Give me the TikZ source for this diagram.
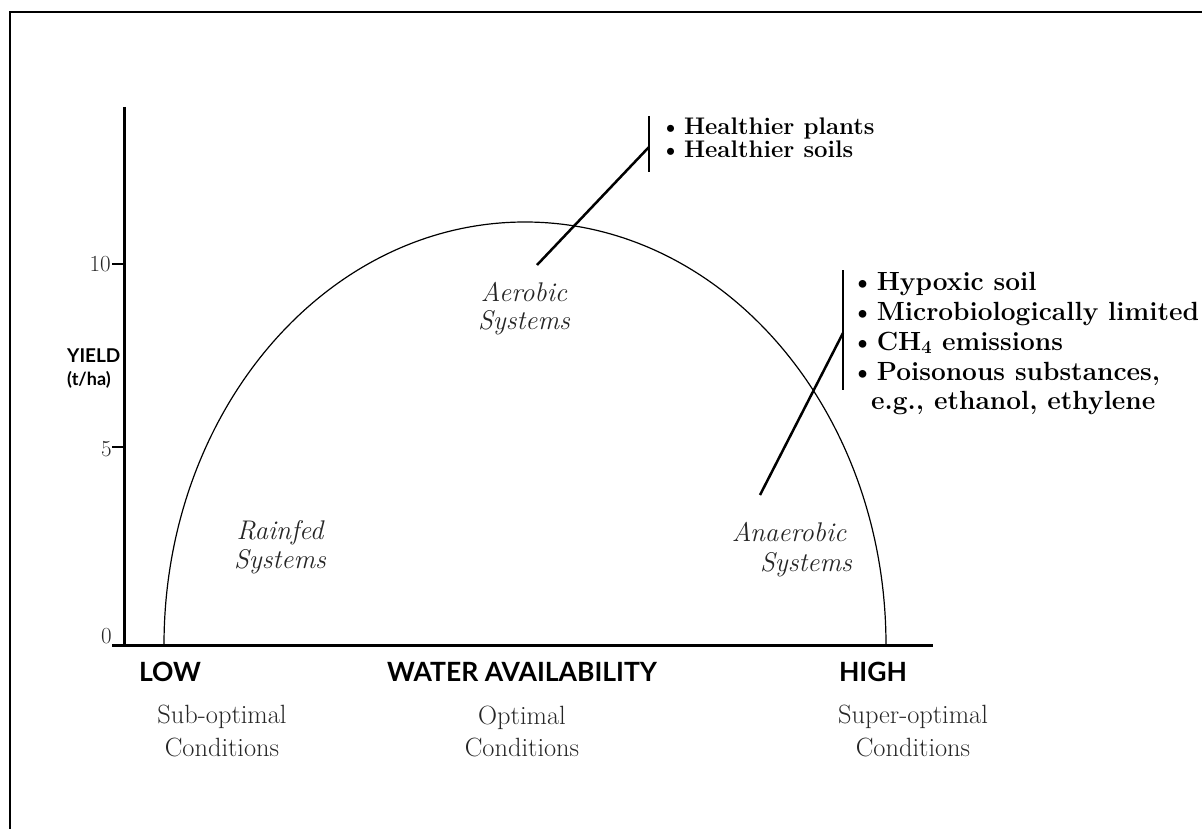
\documentclass[tikz,border=0pt]{standalone}
\usepackage{fontspec}
\newfontfamily\latofont{Lato}
\definecolor{textgray}{gray}{0.15}
\begin{document}
\begin{tikzpicture}[x=1pt,y=-1pt,
  frameline/.style={line width=2pt},
  axisline/.style={line width=3pt},
  tickline/.style={line width=2.5pt},
  curve/.style={line width=1.2pt},
  connector/.style={line width=2.5pt},
  barline/.style={line width=2.5pt},
  numlabel/.style={inner sep=0pt, text=textgray, font=\fontsize{23}{26}\selectfont},
  sanslabel/.style={inner sep=0pt, anchor=base, font=\latofont\bfseries\fontsize{26.5}{30}\selectfont},
  condlabel/.style={inner sep=0pt, anchor=base, text=textgray, font=\fontsize{26.4}{32}\selectfont},
  syslabel/.style={inner sep=0pt, anchor=base, text=textgray, font=\itshape\fontsize{27}{30}\selectfont},
  topitem/.style={inner sep=0pt, anchor=base west, font=\bfseries\fontsize{24}{25}\selectfont},
  rightitem/.style={inner sep=0pt, anchor=base west, font=\bfseries\fontsize{26.3}{30}\selectfont}
]
\useasboundingbox (0,0) rectangle (1202,829);
% frame
\coordinate (frameBL) at (10,829);
\coordinate (frameTL) at (10,12);
\coordinate (frameTR) at (1202,12);
\draw[frameline] (frameBL) -- (frameTL) -- (frameTR);

% axes
\coordinate (ytop) at (124,107);
\coordinate (origin) at (124,645);
\coordinate (xleft) at (112,645);
\coordinate (xright) at (933,645);
\draw[axisline] (ytop) -- (origin);
\draw[axisline] (xleft) -- (xright);

% ticks
\coordinate (t10a) at (112,264);
\coordinate (t10b) at (124,264);
\coordinate (t5a) at (112,447);
\coordinate (t5b) at (124,447);
\draw[tickline] (t10a) -- (t10b);
\draw[tickline] (t5a) -- (t5b);
\node[numlabel, anchor=east] (n10) at (111,264) {10};
\node[numlabel, anchor=east] (n5) at (112,449) {5};
\node[numlabel, anchor=south east] (n0) at (112,644) {0};

% axis titles
\node[inner sep=0pt, anchor=base west, font=\latofont\bfseries\fontsize{19}{22}\selectfont] (yield) at (67,362) {YIELD};
\node[inner sep=0pt, anchor=base west, font=\latofont\bfseries\fontsize{18}{22}\selectfont] (unit) at (67,385) {(t/ha)};
\node[sanslabel] (low) at (170,681) {LOW};
\node[sanslabel] (water) at (522,681) {WATER AVAILABILITY};
\node[sanslabel] (high) at (873,681) {HIGH};

\node[condlabel] (sub1) at (222,723) {Sub-optimal};
\node[condlabel] (sub2) at (222,756) {Conditions};
\node[condlabel] (opt1) at (522,724) {Optimal};
\node[condlabel] (opt2) at (522,756) {Conditions};
\node[condlabel] (sup1) at (913,723) {Super-optimal};
\node[condlabel] (sup2) at (913,756) {Conditions};

% curve
\draw[curve] (164,645) arc[start angle=180, end angle=0, x radius=361pt, y radius=423pt];

% system labels
\node[syslabel] (aero1) at (524,301) {Aerobic};
\node[syslabel] (aero2) at (524,329) {Systems};
\node[syslabel] (rain1) at (280,539) {Rainfed};
\node[syslabel] (rain2) at (280,568) {Systems};
\node[syslabel] (anaero1) at (789,541) {Anaerobic};
\node[syslabel] (anaero2) at (806,571) {Systems};

% top bracket
\coordinate (b1top) at (649,116);
\coordinate (b1bot) at (649,172);
\coordinate (b1mid) at (649,147);
\coordinate (aeroEnd) at (537,265);
\draw[barline] (b1top) -- (b1bot);
\draw[connector] (aeroEnd) -- (b1mid);
\node[topitem] (hp) at (660,135) {\textbullet\hspace{0.12em}Healthier plants};
\node[topitem] (hs) at (660,158) {\textbullet\hspace{0.12em}Healthier soils};

% right bracket
\coordinate (b2top) at (843,270);
\coordinate (b2bot) at (843,390);
\coordinate (b2mid) at (843,333);
\coordinate (anaeroEnd) at (760,495);
\draw[barline] (b2top) -- (b2bot);
\draw[connector] (anaeroEnd) -- (b2mid);
\node[rightitem] (r1) at (851,290) {\textbullet\hspace{0.1em}Hypoxic soil};
\node[rightitem] (r2) at (851,320) {\textbullet\hspace{0.1em}Microbiologically limited};
\node[rightitem] (r3) at (851,350) {\textbullet\hspace{0.1em}CH\textsubscript{4} emissions};
\node[rightitem] (r4) at (851,380) {\textbullet\hspace{0.1em}Poisonous substances,};
\node[rightitem] (r5) at (871,409) {e.g., ethanol, ethylene};
\end{tikzpicture}
\end{document}
